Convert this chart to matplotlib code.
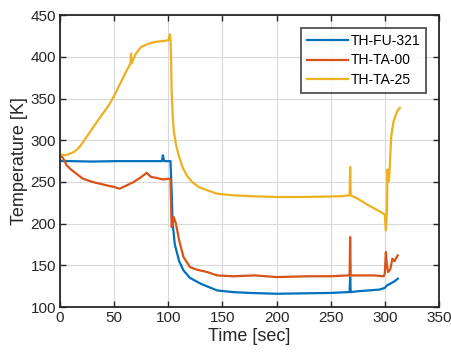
import matplotlib.pyplot as plt

# TH-FU-321
t_fu = [0, 2, 10, 30, 50, 70, 90, 94, 95, 96, 100, 102, 103, 104, 106, 110, 114,
        120, 130, 145, 160, 175, 200, 225, 250, 266, 267.5, 268, 268.5, 275,
        285, 295, 300, 302, 305, 309, 312]
T_fu = [276, 275, 275, 274.5, 275, 275, 275, 275, 282, 275, 275, 275, 240, 200,
        175, 155, 144, 135, 128, 120, 118, 117, 116, 116.5, 117, 118, 118, 136,
        118, 119, 120, 121, 123, 126, 128, 131, 134]

# TH-TA-00
t_00 = [0, 3, 6, 10, 15, 21, 30, 43, 50, 55, 60, 68, 75, 80, 84, 89, 95, 101,
        102, 103, 104, 105, 107, 110, 114, 120, 126, 136, 145, 160, 180, 200,
        230, 250, 267, 267.5, 268, 268.5, 280, 290, 299, 300, 301, 302, 303,
        305, 307, 309, 311, 312]
T_00 = [283, 278, 270, 265, 260, 254, 250, 246, 244, 242, 245, 250, 256, 261,
        256, 255, 253, 254, 253, 196, 200, 208, 200, 180, 160, 148, 145, 142,
        138, 137, 138, 136, 137, 137, 138, 138, 184, 138, 138, 138, 137, 140,
        166, 150, 142, 145, 158, 155, 160, 162]

# TH-TA-25
t_25 = [0, 5, 9, 13, 18, 25, 35, 45, 51, 60, 65, 65.5, 66, 70, 75, 82, 88, 95,
        100, 101.5, 102, 102.5, 103, 104, 105, 107, 110, 113, 117, 122, 128,
        136, 145, 160, 176, 200, 222, 245, 260, 267, 267.5, 268, 268.5, 275,
        285, 295, 300, 301, 302, 302.5, 303, 304, 305, 306, 308, 310, 312, 314]
T_25 = [283, 282, 284, 286, 292, 305, 324, 342, 356, 380, 392, 404, 392, 404,
        412, 416, 418, 419, 420, 427, 420, 400, 360, 330, 312, 295, 280, 268,
        258, 250, 244, 240, 236, 234, 233, 232, 232, 232.5, 233, 234, 234, 268,
        234, 230, 222, 215, 211, 192, 215, 265, 250, 252, 280, 305, 322, 330,
        336, 339]

plt.rcParams['font.family'] = ['Liberation Sans', 'DejaVu Sans']

fig = plt.figure(figsize=(4.52, 3.53), dpi=100)
ax = fig.add_axes([0.133, 0.130, 0.838, 0.827])

ax.plot(t_fu, T_fu, color='#0072BD', linewidth=1.6, label='TH-FU-321')
ax.plot(t_00, T_00, color='#D95319', linewidth=1.6, label='TH-TA-00')
ax.plot(t_25, T_25, color='#EDB120', linewidth=1.6, label='TH-TA-25')

ax.set_xlim(0, 350)
ax.set_ylim(100, 450)
ax.set_xticks(range(0, 351, 50))
ax.set_yticks(range(100, 451, 50))
ax.grid(True, color='#d9d9d9', linewidth=0.8)
ax.set_axisbelow(True)
ax.tick_params(direction='in', top=True, right=True, length=4, width=1,
               labelsize=11, colors='#262626', pad=3)
for s in ax.spines.values():
    s.set_linewidth(1.3)
    s.set_color('#262626')

ax.set_xlabel('Time [sec]', fontsize=13, color='#262626', labelpad=2)
ax.set_ylabel('Temperature [K]', fontsize=13, color='#262626', labelpad=2)

leg = ax.legend(loc='upper right', fontsize=10, frameon=True, fancybox=False,
                edgecolor='#262626', handlelength=2.9, borderpad=0.45,
                labelspacing=0.4, handletextpad=0.2, borderaxespad=0.9)
leg.get_frame().set_linewidth(1.3)

fig.savefig('out.png', dpi=100)
